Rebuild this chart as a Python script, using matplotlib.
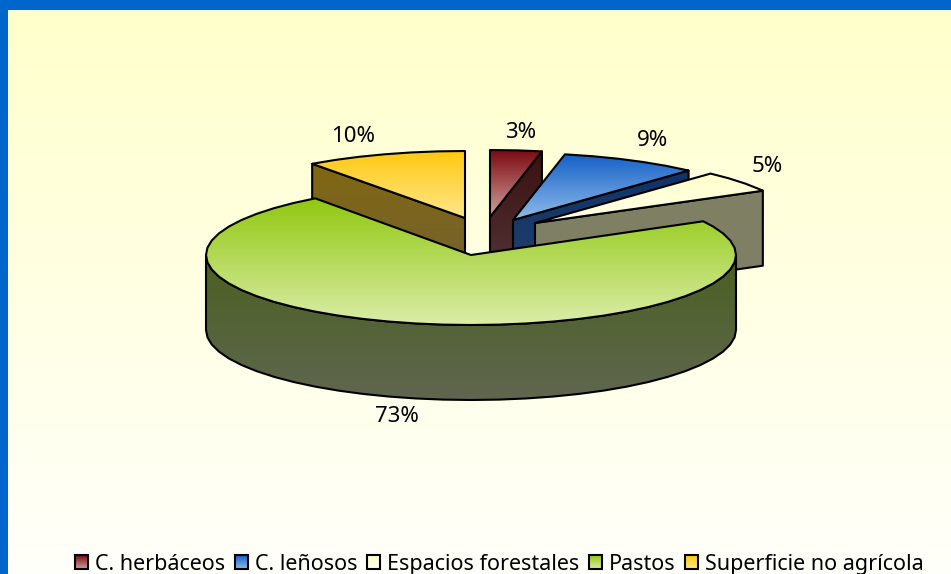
import matplotlib

matplotlib.use("Agg")
import matplotlib.pyplot as plt
import numpy as np
from matplotlib.colors import LinearSegmentedColormap
from matplotlib.patches import Patch, Polygon

W, H = 951, 574

categories = [
    "C. herbáceos",
    "C. leñosos",
    "Espacios forestales",
    "Pastos",
    "Superficie no agrícola",
]
values = [3.2, 8.6, 5.2, 73, 10]

# layout of the exploded slices, in pixels
centers = [(490, 217), (513, 220), (535, 223), (471, 255), (465, 218)]
radii = [(260, 67), (260, 67), (260, 67), (265, 70), (260, 67)]
label_pos = [(521, 132), (653, 140), (767, 167), (397, 416), (353, 136)]
depth = 75
draw_order = [0, 1, 2, 4, 3]

# top colour, bottom colour
top_colors = [
    ("#7a0a10", "#d2a0a0"),
    ("#1560c8", "#90bce8"),
    ("#ffffcc", "#ffffe8"),
    ("#90c810", "#dcedaa"),
    ("#ffc810", "#ffe88c"),
]
side_colors = [
    ("#3a1010", "#553a3c"),
    ("#0f3468", "#26406a"),
    ("#7f7f63", "#808068"),
    ("#4a6020", "#606650"),
    ("#806810", "#736038"),
]

plt.rcParams["font.family"] = ["Noto Sans", "DejaVu Sans"]

fig = plt.figure(figsize=(W / 100, H / 100), dpi=100, facecolor="#0066cc")
ax = fig.add_axes([0, 0, 1, 1])
ax.set_xlim(0, W)
ax.set_ylim(H, 0)
ax.axis("off")


def vgrad(c1, c2, extent, clip=None, z=1):
    cmap = LinearSegmentedColormap.from_list("g", [c1, c2])
    im = ax.imshow(
        np.linspace(0, 1, 256).reshape(-1, 1),
        cmap=cmap,
        extent=extent,
        aspect="auto",
        zorder=z,
        interpolation="bilinear",
    )
    if clip is not None:
        im.set_clip_path(clip)
    return im


def face(pts, colors, z):
    pts = np.array(pts)
    outline = Polygon(pts, closed=True, fc="none", ec="black", lw=1.5, zorder=z + 0.1, joinstyle="round")
    ax.add_patch(outline)
    x0, x1 = pts[:, 0].min(), pts[:, 0].max()
    y0, y1 = pts[:, 1].min(), pts[:, 1].max()
    vgrad(colors[0], colors[1], (x0, x1, y1, y0), clip=outline, z=z)


# background, the blue frame only shows at the top and on the left
vgrad("#ffffcc", "#fffffb", (8, W, H, 10), z=0)

cum = np.cumsum([0] + values) / sum(values) * 2 * np.pi
step = np.radians(6)  # the arcs of the original are coarse polygons
for z, i in enumerate(draw_order):
    z = 2 + z * 2
    cx, cy = centers[i]
    a, b = radii[i]
    grid = np.arange(np.ceil(cum[i] / step), np.floor(cum[i + 1] / step) + 1) * step
    t = np.unique(np.concatenate([[cum[i]], grid, [cum[i + 1]]]))
    arc = np.column_stack([cx + a * np.sin(t), cy - b * np.cos(t)])
    apex = np.array([cx, cy])
    shift = np.array([0, depth])

    # cut faces, only those turned to the viewer
    if np.sin(t[0]) < -1e-6:
        face([apex, arc[0], arc[0] + shift, apex + shift], side_colors[i], z)
    if np.sin(t[-1]) > 1e-6:
        face([apex, arc[-1], arc[-1] + shift, apex + shift], side_colors[i], z)
    # outer rim, only the part facing the viewer
    front = arc[np.cos(t) <= 1e-6]
    if len(front) > 1:
        face(np.vstack([front, (front + shift)[::-1]]), side_colors[i], z + 0.3)
    # top
    face(np.vstack([[apex], arc]), top_colors[i], z + 0.6)

for v, (x, y) in zip(values, label_pos):
    ax.text(x, y, f"{v:.0f}%", ha="center", va="center", fontsize=16, color="black", zorder=30)

handles = [Patch(fc="none", ec="black", lw=1.5) for c in top_colors]
leg = ax.legend(
    handles,
    categories,
    loc="lower center",
    bbox_to_anchor=(0.525, -0.016),
    ncols=5,
    frameon=False,
    fontsize=15.5,
    handlelength=0.6,
    handleheight=0.6,
    handletextpad=0.32,
    columnspacing=0.45,
    borderaxespad=0.0,
)
leg.set_zorder(30)

fig.canvas.draw()
inv = ax.transData.inverted()
for h, c in zip(leg.get_patches(), top_colors):
    bb = h.get_window_extent()
    (x0, y0), (x1, y1) = inv.transform([(bb.x0, bb.y0), (bb.x1, bb.y1)])
    vgrad(c[0], c[1], (x0, x1, y0, y1), z=29)

ax.set_xlim(0, W)
ax.set_ylim(H, 0)
fig.savefig("out.png", dpi=100, facecolor=fig.get_facecolor())
